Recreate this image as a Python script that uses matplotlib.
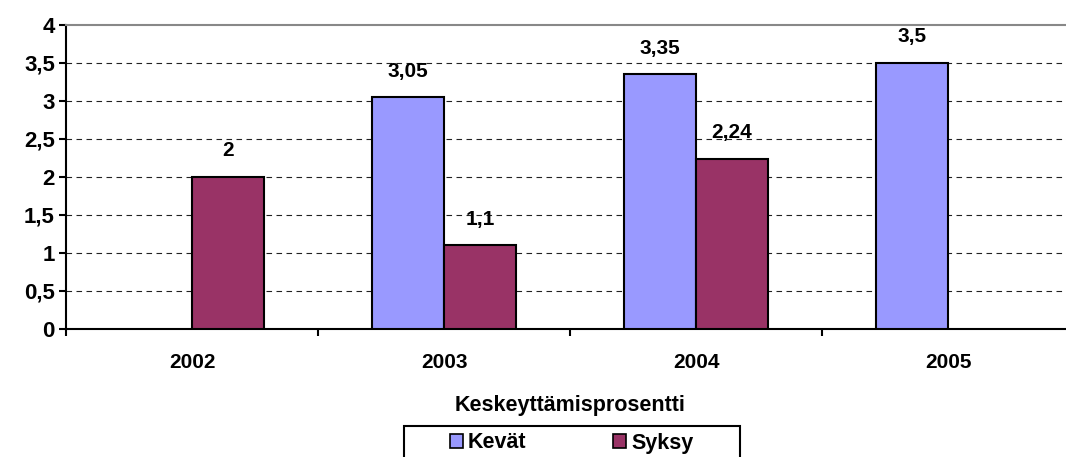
import matplotlib
matplotlib.use("Agg")
import matplotlib.pyplot as plt
import numpy as np
from matplotlib.patches import Patch, Rectangle

categories = ["2002", "2003", "2004", "2005"]
kevat = [np.nan, 3.05, 3.35, 3.5]
syksy = [2.0, 1.1, 2.24, np.nan]
yticks = [0, 0.5, 1, 1.5, 2, 2.5, 3, 3.5, 4]
series_names = ["Kevät", "Syksy"]

c_kevat = "#9999FF"
c_syksy = "#993366"

plt.rcParams['font.family'] = ['Liberation Sans', 'DejaVu Sans']
plt.rcParams['font.weight'] = 'bold'

W, H = 1066, 457
fig = plt.figure(figsize=(W/100, H/100), dpi=100)
ax = fig.add_axes([66/W, (H-329)/H, (1074-66)/W, (329-25)/H])

x = np.arange(len(categories))
w = 1/3.5
b1 = ax.bar(x - w/2, kevat, w, color=c_kevat, edgecolor='black', linewidth=1.5, zorder=3)
b2 = ax.bar(x + w/2, syksy, w, color=c_syksy, edgecolor='black', linewidth=1.5, zorder=3)

def fmt(v):
    return ("%g" % v).replace('.', ',')

for bars, vals in ((b1, kevat), (b2, syksy)):
    for rect, v in zip(bars, vals):
        if np.isnan(v):
            continue
        ax.annotate(fmt(v), (rect.get_x() + rect.get_width()/2, v),
                    xytext=(0, 12), textcoords='offset points',
                    ha='center', va='bottom', fontsize=15, fontweight='bold')

ax.set_xlim(-0.5, 3.5)
ax.set_ylim(0, 4)
ax.set_yticks(yticks)
ax.set_yticklabels([fmt(t) for t in yticks], fontsize=16, fontweight='bold')
ax.set_xticks(x)
ax.set_xticklabels(categories, fontsize=15, fontweight='bold')
ax.set_xticks(np.arange(-0.5, 4.0, 1.0), minor=True)
ax.tick_params(axis='x', which='major', length=0, pad=17)
ax.tick_params(axis='x', which='minor', length=5, width=1.5, direction='out')
ax.tick_params(axis='y', length=5, width=1.5, direction='out', pad=3)

for t in yticks[1:-1]:
    ax.axhline(t, color='#222222', linestyle=(0, (5, 4)), linewidth=0.8, zorder=1)

ax.spines['top'].set_color('#888888')
ax.spines['top'].set_linewidth(1.5)
ax.spines['right'].set_visible(False)
ax.spines['left'].set_linewidth(1.5)
ax.spines['bottom'].set_linewidth(1.5)

ax.set_xlabel("Keskeyttämisprosentti", fontsize=15.5, fontweight='bold', labelpad=17)

# legend frame
fig.add_artist(Rectangle((404/W, (H-470)/H), (740-404)/W, (470-426)/H,
                         transform=fig.transFigure, facecolor='white',
                         edgecolor='black', linewidth=1.5, zorder=1))
handles = [Patch(facecolor=c_kevat, edgecolor='black', linewidth=1.2),
           Patch(facecolor=c_syksy, edgecolor='black', linewidth=1.2)]
leg = fig.legend(handles, series_names, loc='center left',
                 bbox_to_anchor=(439/W, 1 - 443/H), ncol=2,
                 frameon=False, fontsize=15.5,
                 handlelength=0.6, handleheight=0.6, handletextpad=0.25,
                 columnspacing=4.0, borderpad=0.0,
                 prop={'weight': 'bold', 'size': 15.5})
leg.set_zorder(2)

fig.savefig("out.png", dpi=100)
